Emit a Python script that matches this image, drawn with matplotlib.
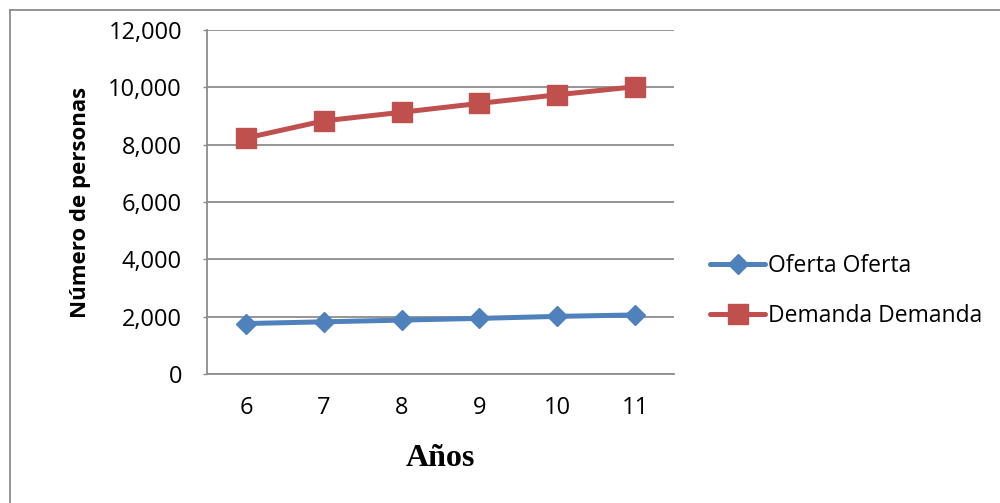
import matplotlib
matplotlib.use("Agg")
import matplotlib.pyplot as plt
from matplotlib.lines import Line2D
from matplotlib.ticker import FuncFormatter

years = [6, 7, 8, 9, 10, 11]
oferta = [1760, 1820, 1880, 1940, 2010, 2060]
demanda = [8230, 8830, 9130, 9440, 9740, 10020]
labels = ["Oferta Oferta", "Demanda Demanda"]
yticks = [0, 2000, 4000, 6000, 8000, 10000, 12000]

W, H = 1000, 503
fig = plt.figure(figsize=(W / 100, H / 100), dpi=100)
ax = fig.add_axes([207 / W, 1 - 374 / H, 467 / W, 344 / H])

blue = "#4F81BD"
red = "#C0504D"
grid = "#8C8C8C"

ax.plot(years, oferta, color=blue, lw=3.6, marker="D", ms=10, label=labels[0],
        solid_capstyle="round", zorder=3)
ax.plot(years, demanda, color=red, lw=3.6, marker="s", ms=14, label=labels[1],
        solid_capstyle="round", zorder=3)

ax.set_xlim(5.5, 11.5)
ax.set_ylim(0, 12000)
ax.set_xticks(years)
ax.set_yticks(yticks)
ax.yaxis.set_major_formatter(FuncFormatter(lambda v, p: f"{int(v):,}"))
ax.grid(axis="y", color=grid, lw=1.3, zorder=0)
ax.set_axisbelow(True)

for s in ["top", "right"]:
    ax.spines[s].set_visible(False)
for s in ["left", "bottom"]:
    ax.spines[s].set_color(grid)
    ax.spines[s].set_linewidth(1.3)

tickfont = "Open Sans"
ax.tick_params(axis="y", length=3, color=grid, width=1.0, pad=15, labelsize=17)
ax.tick_params(axis="x", length=0, pad=16, labelsize=17)
for t in ax.get_xticklabels() + ax.get_yticklabels():
    t.set_fontfamily(tickfont)

ax.set_ylabel("Número de personas", fontsize=16, fontweight="bold", family=tickfont)
ax.yaxis.set_label_coords((91 - 207) / 467, 0.5)
ax.set_xlabel("Años", fontsize=23, fontweight="bold", family="Liberation Serif")
ax.xaxis.set_label_coords(0.5, -(444 - 374) / 344)

leg = ax.legend(loc="center left", bbox_to_anchor=(710 / W, 1 - 291 / H),
                bbox_transform=fig.transFigure, frameon=False,
                prop={"family": tickfont, "size": 16.5},
                borderaxespad=0, borderpad=0,
                handlelength=2.4, handletextpad=0.13, labelspacing=1.15)

# outer border (extends beyond image right/bottom)
fig.add_artist(Line2D([10 / W, 1.0], [1 - 9.5 / H, 1 - 9.5 / H], color="#8C8C8C", lw=1.3,
                      transform=fig.transFigure))
fig.add_artist(Line2D([10 / W, 10 / W], [0.0, 1 - 9.5 / H], color="#8C8C8C", lw=1.3,
                      transform=fig.transFigure))

fig.savefig("out.png", dpi=100)
